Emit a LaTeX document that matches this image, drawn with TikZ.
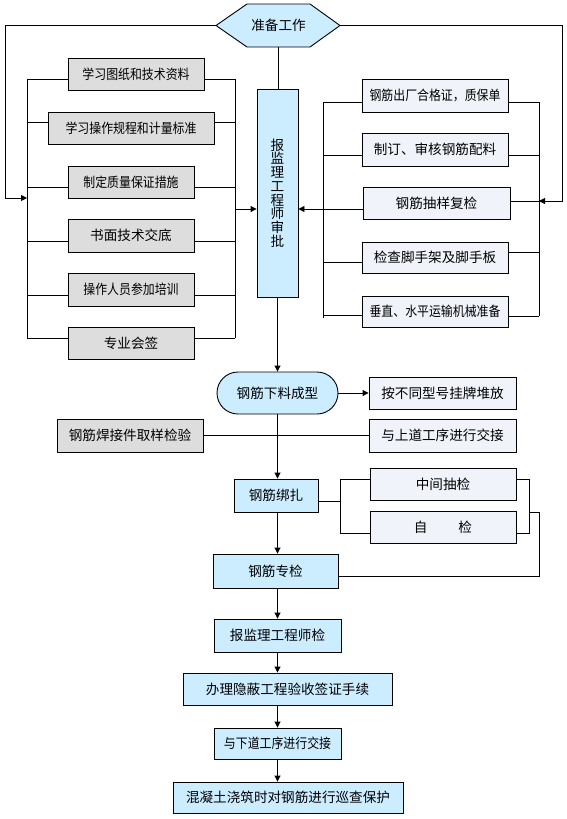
\documentclass[tikz,border=0pt]{standalone}
\usepackage{fontspec}
\setmainfont{Noto Sans CJK SC}
\newfontfamily\condfont[FakeStretch=0.875]{Noto Sans CJK SC}
\usetikzlibrary{arrows.meta,shapes.misc}
\definecolor{bluef}{RGB}{204,236,255}
\definecolor{grayf}{RGB}{221,221,221}
\definecolor{lightf}{RGB}{240,244,250}
\begin{document}
\begin{tikzpicture}[x=1pt,y=-1pt,line width=0.9pt,
  base/.style={draw=black,inner sep=0pt,align=center,font=\fontsize{13.6}{15}\selectfont},
  narrow/.style={font=\condfont\fontsize{13.6}{15}\selectfont},
  bluebox/.style={base,fill=bluef},
  graybox/.style={base,fill=grayf},
  lightbox/.style={base,fill=lightf},
  sz/.style n args={2}{minimum width=#1,minimum height=#2},
  arr/.style={-{Triangle[length=6pt,width=6pt]}}]
\useasboundingbox (0,0) rectangle (566,819);

% top hexagon
\coordinate (pw) at (216,25.5);
\coordinate (pe) at (340,25.5);
\filldraw[fill=bluef] (pw) -- (247,4) -- (310,4) -- (pe) -- (310,47) -- (247,47) -- cycle;
\node[base,draw=none,sz={63}{43}] (prep) at (278.5,25.5) {准备工作};

% central approval box
\node[bluebox,sz={41}{208},font=\fontsize{13.6}{13.75}\selectfont] (B) at (277.5,193)
  {报\\监\\理\\工\\程\\师\\审\\批};
\draw (prep.south) -- (prep.south |- B.north);

% left group
\node[graybox,narrow,sz={136}{32}] (L1) at (136,74) {学习图纸和技术资料};
\node[graybox,narrow,sz={166}{32}] (L2) at (131,128) {学习操作规程和计量标准};
\node[graybox,narrow,sz={126}{32}] (L3) at (131,182) {制定质量保证措施};
\node[graybox,sz={126}{33}] (L4) at (131,235.5) {书面技术交底};
\node[graybox,narrow,sz={126}{33}] (L5) at (131,289.5) {操作人员参加培训};
\node[graybox,sz={126}{32}] (L6) at (131,343) {专业会签};

\coordinate (lbt) at (27,79);
\coordinate (lbb) at (27,338);
\coordinate (rbt) at (235,79);
\coordinate (rbb) at (235,338);
\draw (lbt) -- (lbb);
\draw (rbt) -- (rbb);
\foreach \n/\y in {L1/79,L2/122,L3/187,L4/241,L5/295,L6/338}{
  \draw (27,\y) -- (\n.west |- 27,\y);
  \draw (\n.east |- 235,\y) -- (235,\y);
}
\coordinate (lin) at (27,198);
\draw[arr] (pw) -- (5,25.5) -- (5,198) -- (lin);
\coordinate (lout) at (235,209);
\draw[arr] (lout) -- (B.west |- lout);

% right group
\node[lightbox,narrow,sz={146}{33}] (R1) at (435,95.5) {钢筋出厂合格证，质保单};
\node[lightbox,sz={146}{33}] (R2) at (435,149.5) {制订、审核钢筋配料};
\node[lightbox,sz={147}{32}] (R3) at (436.5,203) {钢筋抽样复检};
\node[lightbox,sz={146}{31}] (R4) at (435,257.5) {检查脚手架及脚手板};
\node[lightbox,narrow,sz={146}{31}] (R5) at (435,311.5) {垂直、水平运输机械准备};

\coordinate (qbt) at (323,102);
\coordinate (qbb) at (323,318);
\coordinate (sbt) at (539,102);
\coordinate (sbb) at (539,316);
\draw (qbt) -- (qbb);
\draw (sbt) -- (sbb);
\foreach \n/\y in {R1/102,R2/155,R4/262,R5/315}{
  \draw (323,\y) -- (\n.west |- 323,\y);
}
\foreach \n/\y in {R1/102,R2/155,R3/201,R4/252,R5/316}{
  \draw (\n.east |- 539,\y) -- (539,\y);
}
\coordinate (rin) at (539,201);
\draw[arr] (pe) -- (562,25.5) -- (562,201) -- (rin);
\draw[arr] (R3.west |- 0,209) -- (B.east |- 0,209);

% lower flow
\node[bluebox,rounded rectangle,sz={121}{42}] (C1) at (277.5,393) {钢筋下料成型};
\node[lightbox,sz={147}{32}] (K1) at (442.5,393) {按不同型号挂牌堆放};
\node[graybox,sz={146}{33}] (W) at (130,435.5) {钢筋焊接件取样检验};
\node[lightbox,sz={147}{33}] (K2) at (442.5,435.5) {与上道工序进行交接};
\node[bluebox,sz={84}{33}] (C2) at (276,495.5) {钢筋绑扎};
\node[lightbox,sz={146}{32}] (M1) at (443,484) {中间抽检};
\node[lightbox,sz={146}{32}] (M2) at (443,527) {自\hspace{31pt}检};
\node[bluebox,sz={125}{34}] (C3) at (275.5,571) {钢筋专检};
\node[bluebox,sz={127}{33}] (C4) at (277.5,635.5) {报监理工程师检};
\node[bluebox,sz={209}{32}] (C5) at (287.5,689) {办理隐蔽工程验收签证手续};
\node[bluebox,narrow,sz={127}{31}] (C6) at (277.5,743.5) {与下道工序进行交接};
\node[bluebox,sz={230}{31}] (C7) at (288,797.5) {混凝土浇筑时对钢筋进行巡查保护};

\draw[arr] (B.south) -- (B.south |- C1.north);
\draw[arr] (C1.east) -- (K1.west |- C1.east);
\draw (W.east) -- (K2.west);
\draw[arr] (B.south |- C1.south) -- (B.south |- C2.north);
\draw[arr] (B.south |- C2.south) -- (B.south |- C3.north);
\draw[arr] (B.south |- C3.south) -- (B.south |- C4.north);
\draw[arr] (B.south |- C4.south) -- (B.south |- C5.north);
\draw[arr] (B.south |- C5.south) -- (B.south |- C6.north);
\draw[arr] (B.south |- C6.south) -- (B.south |- C7.north);

% inspection brackets
\draw (C2.east |- 0,501) -- (340,501);
\draw (M1.west |- 0,479) -- (340,479) -- (340,533) -- (M2.west |- 0,533);
\draw (M1.east |- 0,479) -- (529,479) -- (529,533) -- (M2.east |- 0,533);
\draw (529,512) -- (539,512) -- (539,576) -- (C3.east |- 0,576);
\end{tikzpicture}
\end{document}
